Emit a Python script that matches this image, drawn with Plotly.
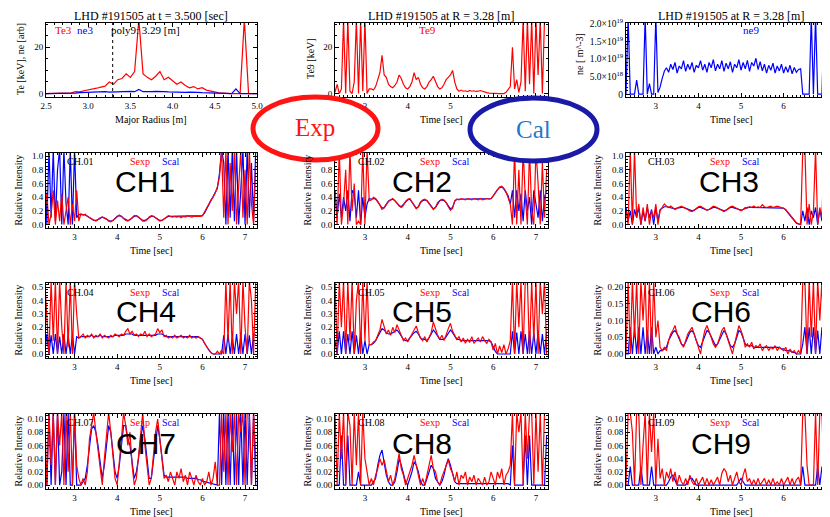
import plotly.graph_objects as go

# ---------------- sample grids ----------------
time_s = [round(2.30 + 0.05 * i, 2) for i in range(100)]     # discharge time [sec]
radius_m = [round(2.50 + 0.05 * i, 2) for i in range(51)]    # major radius [m]

# ---------------- top row data ----------------
te3_kev = [0, 0, 0, 0, 0, 0.1, 0.3, 0.8, 0.7, 1.2,
           1.5, 2.0, 2.3, 2.8, 3.2, 5.0, 4.0, 6.0, 6.5, 8.5,
           7.0, 9.5, 32, 8.5, 7.0, 6.0, 7.5, 9.5, 6.0, 7.0,
           5.5, 4.0, 5.0, 3.5, 2.5, 3.0, 2.0, 2.5, 1.5, 1.0,
           0.5, 0.3, 0.2, 0.0, 0.0, 0.0, 0.0, 32, 0.0, 0.0,
           0.0]
ne3_arb = [0, 0, 0, 0.05, 0.05, 0.05, 0.1, 0.2, 0.4, 0.5,
           0.6, 0.6, 0.7, 0.7, 0.8, 0.6, 0.7, 0.8, 0.7, 0.8,
           0.9, 0.8, 1.8, 0.8, 0.7, 0.8, 0.9, 1.0, 0.8, 0.7,
           0.6, 0.7, 0.6, 0.5, 0.6, 0.4, 0.5, 0.4, 0.3, 0.2,
           0.1, 0.05, 0, 0, 0, 2.0, 0, 0, 0, 0,
           0]
poly9_R = 3.29

te9_kev = [0.5, 4.0, 0.0, 2.0, 32, 0.0, 32, 1.0, 0.0, 5.0, 32, 0.0, 32, 1.0, 32, 0.0, 2.0,
           2.0, 1.5, 3.0, 6.0, 9.0, 16.5, 8.0, 7.0, 4.0, 3.0,
           2.5, 3.5, 5.0, 8.0, 6.5, 4.0, 2.5, 2.0, 3.0, 5.0,
           9.0, 6.0, 7.0, 4.0, 2.5, 2.0, 3.0, 5.0, 6.0, 7.5,
           5.5, 3.0, 2.0, 2.5, 4.0, 6.0, 7.0, 8.0, 10.0, 5.0,
           2.0, 1.0, 1.5, 1.0, 1.2, 0.8, 1.3, 1.0, 1.2, 0.9,
           1.0, 1.3, 1.0, 0.6, 0.4, 0.2, 0.1, 0.0, 0.0, 0.0,
           0.0, 0.0, 0.0, 0.5, 2.0,
           3.0, 20.0, 2.0, 6.0, 0.5, 5.0, 32, 1.0, 32, 4.0, 32, 0.0, 32, 8.0, 32, 0.0, 32, 32]

ne9_1e19 = [0.0, 2.2, 0.0, 0.0, 0.0, 0.4, 0.0, 0.0, 0.0, 2.2, 0.0, 0.3, 0.0, 0.0, 2.2, 0.05, 0.2,
            0.45, 0.65, 0.75, 0.62, 0.85, 0.70, 0.90, 0.60, 0.80, 0.72,
            0.95, 0.65, 0.85, 0.70, 0.90, 0.62, 0.82, 0.75, 0.95, 0.68,
            0.85, 0.62, 0.90, 0.75, 0.98, 0.66, 0.85, 0.72, 0.95, 0.65,
            0.88, 0.72, 0.92, 0.62, 0.85, 0.75, 0.98, 0.68, 0.90, 0.72,
            0.96, 0.65, 0.90, 0.80, 1.02, 0.70, 0.92, 0.66, 0.85, 0.60,
            0.82, 0.68, 0.88, 0.60, 0.80, 0.66, 0.85, 0.60, 0.78, 0.62,
            0.82, 0.58, 0.76, 0.62, 0.70,
            0.72, 0.0, 0.0, 0.0, 0.0, 2.2, 0.0, 2.2, 0.0, 0.0, 0.0, 2.2, 0.0, 2.2, 0.0, 0.0, 2.2, 0.0]

# ---------------- channel intensities (Sexp red, Scal blue) ----------------
ch1_exp = [0.1, 0.45, 0.0, 0.15, 0.5, 0.0, 0.35, 0.05, 0.45, 0.0, 0.2, 0.4, 0.0, 0.3, 0.05, 0.5, 0.05,
           0.16, 0.14, 0.15, 0.12, 0.10, 0.08, 0.06, 0.05, 0.07, 0.10,
           0.11, 0.10, 0.08, 0.05, 0.04, 0.06, 0.09, 0.12, 0.14, 0.12,
           0.09, 0.06, 0.05, 0.07, 0.10, 0.13, 0.13, 0.11, 0.08, 0.05,
           0.05, 0.07, 0.11, 0.13, 0.12, 0.10, 0.07, 0.05, 0.06, 0.08,
           0.11, 0.13, 0.12, 0.11, 0.12, 0.11, 0.12, 0.10, 0.12, 0.11,
           0.13, 0.12, 0.11, 0.12, 0.12, 0.11, 0.12, 0.13, 0.18, 0.24,
           0.30, 0.36, 0.40, 0.46, 0.55,
           0.7, 1.1, 0.1, 1.1, 0.0, 0.9, 0.2, 1.1, 0.0, 0.6, 1.1, 0.1, 0.8, 0.0, 1.1, 0.3, 0.0, 0.9]
ch1_cal = [0.9, 0.0, 1.1, 0.1, 1.1, 0.05, 0.8, 1.1, 0.0, 1.1, 0.3, 0.0, 1.1, 0.0, 1.1, 0.1, 0.15,
           0.15, 0.14, 0.14, 0.12, 0.10, 0.08, 0.06, 0.06, 0.07, 0.09,
           0.11, 0.10, 0.08, 0.06, 0.05, 0.06, 0.09, 0.12, 0.13, 0.12,
           0.09, 0.07, 0.06, 0.07, 0.10, 0.12, 0.13, 0.11, 0.08, 0.06,
           0.06, 0.08, 0.11, 0.12, 0.12, 0.10, 0.08, 0.06, 0.06, 0.08,
           0.10, 0.12, 0.12, 0.12, 0.12, 0.12, 0.12, 0.12, 0.12, 0.12,
           0.12, 0.12, 0.12, 0.12, 0.12, 0.12, 0.12, 0.13, 0.17, 0.23,
           0.29, 0.35, 0.40, 0.45, 0.53,
           0.75, 1.1, 0.9, 0.0, 1.1, 0.1, 1.1, 0.05, 1.1, 0.0, 0.5, 1.1, 0.0, 1.1, 0.1, 0.9, 0.05, 1.1]

ch2_exp = [0.5, 0.0, 1.1, 0.0, 0.3, 0.8, 0.0, 1.1, 0.2, 0.6, 0.0, 0.05, 0.0, 1.1, 0.0, 1.1, 0.35,
           0.36, 0.40, 0.38, 0.34, 0.28, 0.22, 0.24, 0.30, 0.34, 0.36,
           0.38, 0.35, 0.31, 0.27, 0.25, 0.28, 0.34, 0.37, 0.38, 0.33,
           0.27, 0.23, 0.26, 0.33, 0.36, 0.37, 0.35, 0.31, 0.26, 0.22,
           0.25, 0.32, 0.35, 0.37, 0.36, 0.32, 0.26, 0.21, 0.24, 0.35,
           0.37, 0.36, 0.38, 0.37, 0.36, 0.38, 0.37, 0.36, 0.38, 0.37,
           0.36, 0.38, 0.36, 0.37, 0.38, 0.37, 0.38, 0.42, 0.47, 0.52,
           0.55, 0.56, 0.53, 0.48, 0.40,
           0.3, 0.0, 1.1, 0.0, 0.8, 0.0, 1.1, 0.4, 0.0, 1.1, 0.2, 0.0, 1.1, 0.6, 0.0, 0.9, 0.1, 0.8]
ch2_cal = [0.5, 0.1, 0.45, 0.1, 0.4, 0.2, 0.5, 0.05, 0.5, 0.45, 0.1, 0.5, 0.0, 0.4, 0.1, 0.3, 0.38,
           0.37, 0.38, 0.37, 0.33, 0.28, 0.24, 0.25, 0.30, 0.34, 0.36,
           0.37, 0.35, 0.31, 0.28, 0.26, 0.29, 0.33, 0.36, 0.37, 0.33,
           0.28, 0.24, 0.26, 0.32, 0.35, 0.36, 0.35, 0.31, 0.26, 0.23,
           0.25, 0.31, 0.35, 0.36, 0.35, 0.32, 0.27, 0.23, 0.25, 0.34,
           0.37, 0.37, 0.37, 0.37, 0.37, 0.37, 0.37, 0.37, 0.37, 0.37,
           0.37, 0.37, 0.37, 0.37, 0.37, 0.37, 0.38, 0.42, 0.47, 0.51,
           0.54, 0.55, 0.52, 0.47, 0.42,
           0.3, 0.5, 0.1, 0.5, 0.2, 0.45, 0.05, 0.5, 0.2, 0.4, 0.0, 0.5, 0.3, 0.1, 0.5, 0.05, 0.4, 0.5]

ch3_exp = [0.2, 0.0, 1.1, 0.0, 1.1, 0.1, 0.3, 0.0, 0.25, 0.05, 0.3, 0.0, 0.2, 0.1, 0.3, 0.0, 0.2,
           0.26, 0.30, 0.27, 0.25, 0.27, 0.25, 0.22, 0.24, 0.26, 0.27,
           0.25, 0.24, 0.22, 0.20, 0.19, 0.21, 0.24, 0.26, 0.27, 0.25,
           0.23, 0.21, 0.22, 0.25, 0.27, 0.26, 0.24, 0.22, 0.20, 0.19,
           0.21, 0.24, 0.26, 0.27, 0.25, 0.23, 0.21, 0.20, 0.22, 0.25,
           0.24, 0.26, 0.25, 0.27, 0.25, 0.26, 0.25, 0.29, 0.26, 0.25,
           0.26, 0.27, 0.25, 0.26, 0.27, 0.26, 0.25, 0.24, 0.22, 0.18,
           0.14, 0.10, 0.06, 0.03, 0.01,
           0.0, 1.1, 1.1, 0.0, 0.3, 0.0, 0.2, 1.1, 0.0, 0.25, 0.1, 1.1, 0.0, 0.3, 0.05, 0.25, 0.0, 0.2]
ch3_cal = [0.25, 0.05, 0.2, 0.0, 0.22, 0.1, 0.25, 0.0, 0.2, 0.05, 0.25, 0.1, 0.22, 0.0, 0.25, 0.05, 0.22,
           0.24, 0.26, 0.26, 0.25, 0.25, 0.24, 0.23, 0.24, 0.25, 0.25,
           0.25, 0.24, 0.22, 0.21, 0.20, 0.21, 0.23, 0.25, 0.25, 0.24,
           0.23, 0.21, 0.22, 0.24, 0.25, 0.25, 0.24, 0.22, 0.21, 0.20,
           0.21, 0.23, 0.25, 0.25, 0.24, 0.23, 0.21, 0.21, 0.22, 0.24,
           0.25, 0.25, 0.25, 0.25, 0.25, 0.25, 0.25, 0.25, 0.25, 0.25,
           0.25, 0.25, 0.25, 0.25, 0.25, 0.25, 0.25, 0.24, 0.21, 0.17,
           0.13, 0.09, 0.05, 0.02, 0.01,
           0.0, 0.2, 0.05, 0.25, 0.0, 0.2, 0.1, 0.25, 0.0, 0.22, 0.05, 0.25, 0.1, 0.2, 0.0, 0.25, 0.05, 0.2]

ch4_exp = [0.55, 0.3, 0.0, 0.55, 0.1, 0.55, 0.0, 0.55, 0.2, 0.0, 0.55, 0.05, 0.55, 0.0, 0.55, 0.3, 0.12,
           0.13, 0.15, 0.12, 0.14, 0.13, 0.15, 0.12, 0.14, 0.13, 0.15,
           0.12, 0.14, 0.13, 0.12, 0.14, 0.13, 0.15, 0.14, 0.13, 0.15,
           0.14, 0.17, 0.19, 0.15, 0.17, 0.14, 0.15, 0.13, 0.15, 0.14,
           0.17, 0.13, 0.15, 0.13, 0.14, 0.15, 0.19, 0.16, 0.18, 0.13,
           0.14, 0.12, 0.13, 0.12, 0.14, 0.12, 0.13, 0.14, 0.12, 0.13,
           0.12, 0.14, 0.12, 0.13, 0.12, 0.13, 0.12, 0.11, 0.08, 0.05,
           0.03, 0.01, 0.00, 0.00, 0.02,
           0.0, 0.03, 0.0, 0.55, 0.1, 0.55, 0.0, 0.55, 0.3, 0.55, 0.0, 0.55, 0.2, 0.0, 0.55, 0.4, 0.0, 0.55]
ch4_cal = [0.0, 0.15, 0.0, 0.14, 0.0, 0.15, 0.0, 0.13, 0.0, 0.15, 0.0, 0.14, 0.0, 0.15, 0.0, 0.13, 0.12,
           0.13, 0.13, 0.13, 0.13, 0.13, 0.14, 0.13, 0.13, 0.13, 0.14,
           0.13, 0.13, 0.13, 0.13, 0.13, 0.13, 0.14, 0.14, 0.14, 0.14,
           0.14, 0.15, 0.15, 0.15, 0.15, 0.14, 0.14, 0.14, 0.14, 0.14,
           0.14, 0.14, 0.14, 0.14, 0.14, 0.14, 0.15, 0.15, 0.15, 0.14,
           0.13, 0.13, 0.13, 0.13, 0.13, 0.13, 0.13, 0.13, 0.13, 0.13,
           0.13, 0.13, 0.13, 0.13, 0.13, 0.13, 0.12, 0.11, 0.08, 0.05,
           0.03, 0.01, 0.00, 0.00, 0.00,
           0.0, 0.0, 0.14, 0.0, 0.15, 0.0, 0.13, 0.0, 0.15, 0.0, 0.14, 0.0, 0.15, 0.0, 0.14, 0.0, 0.15, 0.14]

ch5_exp = [0.55, 0.0, 0.55, 0.2, 0.55, 0.0, 0.55, 0.1, 0.55, 0.0, 0.4, 0.55, 0.0, 0.55, 0.1, 0.55, 0.07,
           0.07, 0.09, 0.10, 0.14, 0.18, 0.26, 0.20, 0.15, 0.18, 0.14,
           0.20, 0.16, 0.22, 0.18, 0.14, 0.10, 0.12, 0.09, 0.12, 0.15,
           0.18, 0.21, 0.16, 0.12, 0.10, 0.13, 0.09, 0.12, 0.16, 0.24,
           0.18, 0.14, 0.11, 0.14, 0.10, 0.15, 0.19, 0.23, 0.17, 0.14,
           0.11, 0.13, 0.09, 0.12, 0.08, 0.11, 0.09, 0.13, 0.08, 0.10,
           0.12, 0.09, 0.13, 0.10, 0.08, 0.11, 0.09, 0.03, 0.08, 0.00,
           0.06, 0.01, 0.07, 0.00, 0.04,
           0.1, 0.55, 0.0, 0.55, 0.2, 0.55, 0.0, 0.55, 0.55, 0.0, 0.55, 0.1, 0.55, 0.0, 0.55, 0.3, 0.55, 0.0]
ch5_cal = [0.1, 0.0, 0.17, 0.0, 0.17, 0.0, 0.15, 0.0, 0.17, 0.0, 0.14, 0.0, 0.16, 0.0, 0.1, 0.0, 0.07,
           0.07, 0.08, 0.10, 0.13, 0.16, 0.19, 0.18, 0.16, 0.15, 0.15,
           0.16, 0.17, 0.18, 0.16, 0.13, 0.11, 0.10, 0.10, 0.12, 0.14,
           0.16, 0.17, 0.15, 0.12, 0.11, 0.11, 0.10, 0.12, 0.15, 0.18,
           0.16, 0.13, 0.11, 0.11, 0.11, 0.13, 0.16, 0.18, 0.16, 0.13,
           0.11, 0.11, 0.10, 0.10, 0.10, 0.10, 0.10, 0.10, 0.10, 0.10,
           0.10, 0.10, 0.10, 0.10, 0.10, 0.10, 0.09, 0.05, 0.02, 0.00,
           0.00, 0.00, 0.00, 0.00, 0.00,
           0.0, 0.17, 0.0, 0.16, 0.0, 0.17, 0.0, 0.15, 0.0, 0.17, 0.0, 0.16, 0.0, 0.17, 0.0, 0.15, 0.0, 0.17]

ch6_exp = [0.0, 0.22, 0.0, 0.22, 0.05, 0.22, 0.0, 0.22, 0.1, 0.22, 0.0, 0.22, 0.0, 0.22, 0.05, 0.1, 0.02,
           0.01, 0.02, 0.01, 0.04, 0.06, 0.07, 0.085, 0.06, 0.05, 0.03,
           0.02, 0.04, 0.06, 0.07, 0.08, 0.06, 0.04, 0.02, 0.0, 0.04,
           0.07, 0.085, 0.07, 0.05, 0.03, 0.02, 0.03, 0.05, 0.07, 0.08,
           0.06, 0.04, 0.02, 0.0, 0.03, 0.06, 0.085, 0.07, 0.05, 0.02,
           0.03, 0.02, 0.035, 0.015, 0.025, 0.02, 0.03, 0.01, 0.02, 0.025,
           0.01, 0.02, 0.015, 0.025, 0.01, 0.02, 0.015, 0.01, 0.02, 0.0,
           0.015, 0.005, 0.01, 0.0, 0.01,
           0.0, 0.22, 0.22, 0.0, 0.22, 0.05, 0.22, 0.0, 0.22, 0.1, 0.22, 0.0, 0.22, 0.05, 0.22, 0.0, 0.22, 0.1]
ch6_cal = [0.0, 0.0, 0.08, 0.0, 0.08, 0.0, 0.08, 0.0, 0.08, 0.0, 0.07, 0.0, 0.08, 0.0, 0.02, 0.0, 0.01,
           0.01, 0.015, 0.02, 0.04, 0.055, 0.065, 0.07, 0.06, 0.045, 0.03,
           0.025, 0.035, 0.05, 0.065, 0.07, 0.06, 0.04, 0.025, 0.02, 0.035,
           0.055, 0.07, 0.065, 0.05, 0.035, 0.025, 0.03, 0.045, 0.06, 0.07,
           0.06, 0.04, 0.025, 0.02, 0.03, 0.05, 0.07, 0.065, 0.045, 0.03,
           0.025, 0.025, 0.025, 0.02, 0.02, 0.02, 0.02, 0.02, 0.02, 0.02,
           0.02, 0.02, 0.02, 0.02, 0.02, 0.02, 0.015, 0.015, 0.01, 0.01,
           0.01, 0.005, 0.005, 0.0, 0.0,
           0.0, 0.03, 0.08, 0.0, 0.08, 0.0, 0.08, 0.0, 0.07, 0.0, 0.08, 0.0, 0.08, 0.0, 0.08, 0.0, 0.08, 0.0]

ch7_exp = [0.11, 0.0, 0.11, 0.03, 0.11, 0.0, 0.11, 0.06, 0.11, 0.0, 0.11, 0.02, 0.11, 0.0, 0.11, 0.03, 0.01,
           0.0, 0.01, 0.0, 0.02, 0.07, 0.09, 0.11, 0.08, 0.05, 0.03,
           0.0, 0.04, 0.07, 0.11, 0.08, 0.05, 0.01, 0.0, 0.03, 0.07,
           0.11, 0.09, 0.06, 0.08, 0.03, 0.0, 0.01, 0.04, 0.08, 0.11,
           0.06, 0.03, 0.0, 0.01, 0.05, 0.08, 0.10, 0.07, 0.04, 0.01,
           0.015, 0.005, 0.02, 0.01, 0.0, 0.02, 0.01, 0.025, 0.005, 0.015,
           0.0, 0.02, 0.01, 0.0, 0.015, 0.005, 0.0, 0.01, 0.0, 0.005,
           0.02, 0.0, 0.01, 0.035, 0.0,
           0.0, 0.11, 0.02, 0.11, 0.0, 0.11, 0.05, 0.11, 0.0, 0.11, 0.08, 0.11, 0.0, 0.11, 0.11, 0.0, 0.11, 0.04]
ch7_cal = [0.05, 0.0, 0.11, 0.0, 0.11, 0.0, 0.11, 0.0, 0.02, 0.11, 0.0, 0.11, 0.0, 0.0, 0.11, 0.0, 0.0,
           0.0, 0.005, 0.01, 0.03, 0.06, 0.085, 0.09, 0.08, 0.06, 0.03,
           0.01, 0.03, 0.06, 0.09, 0.08, 0.05, 0.02, 0.01, 0.03, 0.06,
           0.09, 0.09, 0.07, 0.06, 0.03, 0.01, 0.02, 0.04, 0.07, 0.09,
           0.07, 0.04, 0.01, 0.01, 0.04, 0.07, 0.09, 0.07, 0.04, 0.015,
           0.012, 0.012, 0.012, 0.012, 0.012, 0.012, 0.012, 0.012, 0.012, 0.012,
           0.01, 0.01, 0.01, 0.01, 0.01, 0.008, 0.008, 0.006, 0.005, 0.004,
           0.003, 0.002, 0.001, 0.0, 0.0,
           0.11, 0.0, 0.11, 0.0, 0.11, 0.0, 0.11, 0.0, 0.11, 0.0, 0.11, 0.0, 0.11, 0.0, 0.11, 0.0, 0.11, 0.0]

ch8_exp = [0.11, 0.0, 0.11, 0.04, 0.11, 0.0, 0.11, 0.09, 0.0, 0.11, 0.03, 0.11, 0.0, 0.11, 0.04, 0.02, 0.0,
           0.01, 0.0, 0.015, 0.025, 0.04, 0.03, 0.038, 0.02, 0.005, 0.015,
           0.0, 0.01, 0.03, 0.048, 0.025, 0.015, 0.0, 0.01, 0.02, 0.03,
           0.045, 0.03, 0.02, 0.0, 0.01, 0.0, 0.015, 0.03, 0.045, 0.025,
           0.02, 0.005, 0.0, 0.012, 0.02, 0.03, 0.038, 0.025, 0.018, 0.005,
           0.02, 0.0, 0.015, 0.01, 0.02, 0.0, 0.012, 0.005, 0.015, 0.0,
           0.01, 0.005, 0.0, 0.012, 0.0, 0.005, 0.02, 0.01, 0.0, 0.02,
           0.01, 0.025, 0.0, 0.015, 0.02,
           0.03, 0.11, 0.0, 0.11, 0.08, 0.11, 0.0, 0.11, 0.04, 0.11, 0.11, 0.0, 0.11, 0.02, 0.11, 0.0, 0.11, 0.11]
ch8_cal = [0.0, 0.0, 0.0, 0.075, 0.0, 0.0, 0.075, 0.0, 0.0, 0.0, 0.0, 0.02, 0.0, 0.0, 0.0, 0.0, 0.0,
           0.0, 0.005, 0.01, 0.03, 0.045, 0.053, 0.035, 0.015, 0.005, 0.0,
           0.0, 0.005, 0.02, 0.04, 0.03, 0.015, 0.005, 0.0, 0.01, 0.02,
           0.035, 0.03, 0.02, 0.005, 0.0, 0.0, 0.01, 0.02, 0.03, 0.025,
           0.01, 0.005, 0.0, 0.005, 0.015, 0.03, 0.04, 0.03, 0.015, 0.005,
           0.002, 0.002, 0.002, 0.002, 0.002, 0.002, 0.002, 0.002, 0.002, 0.002,
           0.002, 0.002, 0.002, 0.002, 0.002, 0.002, 0.002, 0.002, 0.002, 0.002,
           0.002, 0.002, 0.002, 0.002, 0.002,
           0.0, 0.06, 0.0, 0.0, 0.0, 0.0, 0.0, 0.075, 0.0, 0.075, 0.0, 0.0, 0.0, 0.0, 0.0, 0.0, 0.0, 0.075]

ch9_exp = [0.0, 0.11, 0.11, 0.08, 0.0, 0.11, 0.11, 0.0, 0.06, 0.11, 0.0, 0.11, 0.05, 0.11, 0.0, 0.07, 0.01,
           0.025, 0.0, 0.02, 0.01, 0.025, 0.005, 0.02, 0.0, 0.015, 0.005,
           0.0, 0.01, 0.0, 0.015, 0.005, 0.0, 0.01, 0.0, 0.005, 0.012,
           0.0, 0.01, 0.0, 0.008, 0.0, 0.005, 0.012, 0.0, 0.018, 0.025,
           0.02, 0.005, 0.015, 0.0, 0.01, 0.02, 0.005, 0.0, 0.015, 0.025,
           0.005, 0.01, 0.0, 0.008, 0.0, 0.01, 0.0, 0.005, 0.01, 0.0,
           0.008, 0.0, 0.01, 0.0, 0.005, 0.0, 0.01, 0.0, 0.005, 0.012,
           0.0, 0.01, 0.0, 0.008, 0.012,
           0.0, 0.11, 0.11, 0.03, 0.0, 0.0, 0.0, 0.11, 0.0, 0.11, 0.11, 0.0, 0.11, 0.0, 0.0, 0.11, 0.0, 0.11]
ch9_cal = [0.0, 0.0, 0.028, 0.0, 0.0, 0.0, 0.0, 0.028, 0.0, 0.0, 0.0, 0.0, 0.028, 0.0, 0.0, 0.0, 0.0,
           0.0, 0.0, 0.0, 0.005, 0.012, 0.015, 0.008, 0.0, 0.0, 0.0,
           0.0, 0.0, 0.005, 0.01, 0.01, 0.005, 0.0, 0.0, 0.0, 0.0,
           0.0, 0.0, 0.0, 0.0, 0.0, 0.0, 0.0, 0.0, 0.0, 0.0,
           0.0, 0.0, 0.0, 0.0, 0.0, 0.0, 0.005, 0.01, 0.005, 0.0,
           0.0, 0.0, 0.0, 0.0, 0.0, 0.0, 0.0, 0.0, 0.0, 0.0,
           0.0, 0.0, 0.0, 0.0, 0.0, 0.0, 0.0, 0.0, 0.0, 0.0,
           0.0, 0.0, 0.0, 0.0, 0.0,
           0.0, 0.028, 0.0, 0.0, 0.0, 0.0, 0.0, 0.0, 0.028, 0.0, 0.028, 0.0, 0.0, 0.0, 0.0, 0.0, 0.0, 0.0]

ch_exp = [ch1_exp, ch2_exp, ch3_exp, ch4_exp, ch5_exp, ch6_exp, ch7_exp, ch8_exp, ch9_exp]
ch_cal = [ch1_cal, ch2_cal, ch3_cal, ch4_cal, ch5_cal, ch6_cal, ch7_cal, ch8_cal, ch9_cal]
ch_names = ["CH1", "CH2", "CH3", "CH4", "CH5", "CH6", "CH7", "CH8", "CH9"]
ch_tags = ["CH.01", "CH.02", "CH.03", "CH.04", "CH.05", "CH.06", "CH.07", "CH.08", "CH.09"]

# ---------------- layout geometry (window pixels) ----------------
W, H = 830, 517
OFF = 8          # the page body margin shifts the figure by 8 px
COLS = [(46, 257), (335, 547.5), (626, 836)]
ROWS = [(23, 97), (153, 228), (283, 358), (414, 489)]
TIME_RANGES = [[2.33, 7.28], [2.30, 7.27], [2.30, 7.23]]
CH_Y = {0: ([-0.05, 1.045], 0.2, 0.05, ".1f"), 1: ([-0.03, 0.532], 0.1, 0.02, ".1f"),
        2: ([-0.012, 0.212], 0.05, 0.01, ".2f"), 3: ([-0.006, 0.1076], 0.02, 0.005, ".2f")}

RED, BLUE = "#ff0000", "#0000ff"
SERIF = "Liberation Serif"


def px(x):
    return (x - OFF) / W


def py(y):
    return 1 - (y - OFF) / H


def axname(k):
    return "" if k == 1 else str(k)


def axis_base():
    return dict(showline=True, linecolor="black", linewidth=1, mirror="allticks",
                ticks="inside", ticklen=4, tickwidth=1, tickcolor="black",
                showgrid=False, zeroline=False, automargin=False,
                tickfont=dict(family=SERIF, size=9, color="black"))


fig = go.Figure()
layout = dict(width=W, height=H, autosize=False,
              margin=dict(l=0, r=0, t=0, b=0, pad=0, autoexpand=False),
              paper_bgcolor="white", plot_bgcolor="white", showlegend=False)
annotations = []


def ann(text, x, y, size=10, color="black", family=SERIF, angle=0):
    annotations.append(dict(text=text, x=px(x), y=py(y), xref="paper", yref="paper",
                            showarrow=False, xanchor="center", yanchor="middle",
                            textangle=angle, font=dict(family=family, size=size, color=color)))


def line(x, y, color, k):
    n = min(len(x), len(y))
    fig.add_trace(go.Scatter(x=x[:n], y=y[:n], mode="lines", line=dict(color=color, width=1.2),
                             xaxis="x" + axname(k), yaxis="y" + axname(k), hoverinfo="skip"))


for idx in range(12):
    r, c = divmod(idx, 3)
    k = idx + 1
    xa = axis_base()
    ya = axis_base()
    xa.update(domain=[px(COLS[c][0]), min(1.0, px(COLS[c][1]))], anchor="y" + axname(k))
    ya.update(domain=[py(ROWS[r][1]), py(ROWS[r][0])], anchor="x" + axname(k))
    if idx == 0:
        xa.update(range=[2.5, 5.0], tickvals=[2.5, 3.0, 3.5, 4.0, 4.5, 5.0], tickformat=".1f",
                  minor=dict(ticks="inside", ticklen=2, dtick=0.1, tickcolor="black"))
        ya.update(range=[-1.5, 30.5], tickvals=[0, 20],
                  minor=dict(ticks="inside", ticklen=2, dtick=5, tickcolor="black"))
    else:
        xa.update(range=TIME_RANGES[c], tickvals=[3, 4, 5, 6, 7],
                  minor=dict(ticks="inside", ticklen=2, dtick=0.1, tickcolor="black"))
        if idx == 1:
            ya.update(range=[-1.5, 30.5], tickvals=[0, 20],
                      minor=dict(ticks="inside", ticklen=2, dtick=5, tickcolor="black"))
        elif idx == 2:
            ya.update(range=[-0.08, 2.02], tickvals=[0, 0.5, 1.0, 1.5, 2.0],
                      ticktext=["0", "5.0×10<sup>18</sup>", "1.0×10<sup>19</sup>",
                                "1.5×10<sup>19</sup>", "2.0×10<sup>19</sup>"],
                      tickfont=dict(family=SERIF, size=9.5, color="black"),
                      minor=dict(ticks="inside", ticklen=2, dtick=0.1, tickcolor="black"))
        else:
            ch = idx - 3
            grp = 0 if ch < 3 else (1 if ch < 5 else (2 if ch == 5 else 3))
            rng, dt, mdt, fmt = CH_Y[grp]
            ya.update(range=rng, dtick=dt, tick0=0, tickformat=fmt,
                      minor=dict(ticks="inside", ticklen=2, dtick=mdt, tickcolor="black"))
    layout["xaxis" + axname(k)] = xa
    layout["yaxis" + axname(k)] = ya

# ---- top row traces ----
line(radius_m, te3_kev, RED, 1)
line(radius_m, ne3_arb, BLUE, 1)
line(time_s, te9_kev, RED, 2)
line(time_s, ne9_1e19, BLUE, 3)

# ---- channel traces ----
for ch in range(9):
    k = ch + 4
    line(time_s, ch_cal[ch], BLUE, k)
    line(time_s, ch_exp[ch], RED, k)

# ---- shapes ----
shapes = [dict(type="line", xref="x", yref="y domain", x0=poly9_R, x1=poly9_R, y0=0, y1=1,
               line=dict(color="black", width=1, dash="dot")),
          dict(type="circle", xref="paper", yref="paper", layer="above",
               x0=px(253), x1=px(378), y0=py(160), y1=py(97),
               line=dict(color="#ff1414", width=5), fillcolor="white"),
          dict(type="circle", xref="paper", yref="paper", layer="above",
               x0=px(470), x1=px(597), y0=py(161), y1=py(98),
               line=dict(color="#1a1aa6", width=5), fillcolor="white")]

# ---- texts ----
ann("LHD #191505 at t = 3.500 [sec]", 151, 16, size=12)
ann("LHD #191505 at R = 3.28 [m]", 441, 16, size=12)
ann("LHD #191505 at R = 3.28 [m]", 731, 16, size=12)
ann("Te3", 63, 30, size=11, color=RED)
ann("ne3", 85, 30, size=11, color=BLUE)
ann("poly9: 3.29 [m]", 145, 30, size=11)
ann("Te9", 428, 30, size=11, color=RED)
ann("ne9", 751, 30, size=11, color=BLUE)
ann("Te [keV], ne [arb]", 21, 59, size=10, angle=-90)
ann("Te9 [keV]", 311, 59, size=10, angle=-90)
ann("ne [ m^-3]", 580, 54, size=10, angle=-90)
ann("Major Radius [m]", 151, 119, size=10)
ann("Time [sec]", 441, 119, size=10)
ann("Time [sec]", 731, 119, size=10)

ylab_x = [18, 307, 597]
tag_x = [80, 371, 661]
sexp_x = [140, 430, 720]
scal_x = [170, 460, 750]
big_x = [[145, 422, 729], [146, 422, 721], [146, 422, 721]]
big_y = [181, 311, 443]
tag_y = [161, 292, 422]
time_y = [250, 380, 511]
for ch in range(9):
    r, c = divmod(ch, 3)
    ymid = (ROWS[r + 1][0] + ROWS[r + 1][1]) / 2
    ann("Relative Intensity", ylab_x[c], ymid, size=10, angle=-90)
    ann("Time [sec]", [151, 441, 731][c], time_y[r], size=10)
    ann(ch_tags[ch], tag_x[c], tag_y[r], size=10)
    ann("Sexp", sexp_x[c], tag_y[r], size=10, color=RED)
    ann("Scal", scal_x[c], tag_y[r], size=10, color=BLUE)
    ann(ch_names[ch], big_x[r][c], big_y[r], size=30, family="Liberation Sans")

ann("Exp", 315, 128, size=25, color="#ff1414")
ann("Cal", 533, 130, size=25, color="#1f78c8")

layout["shapes"] = shapes
layout["annotations"] = annotations
fig.update_layout(**layout)
fig.write_html("out.html")
